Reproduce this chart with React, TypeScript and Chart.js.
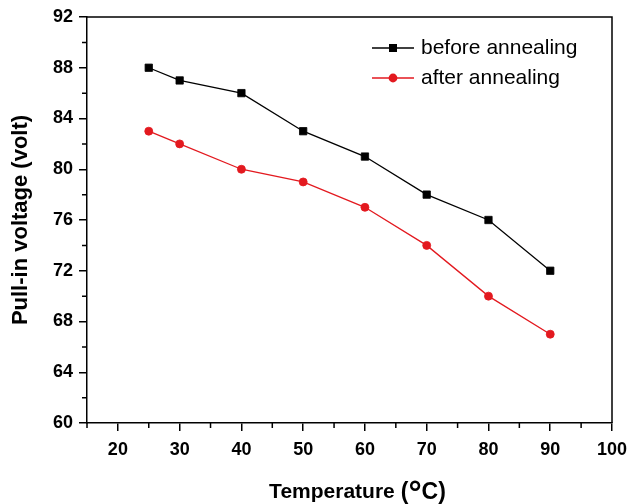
import React, { useEffect, useRef } from 'react';
import { Chart, registerables } from 'chart.js';

Chart.register(...registerables);

const temperatures = [25, 30, 40, 50, 60, 70, 80, 90];
const beforeAnnealing = [88, 87, 86, 83, 81, 78, 76, 72];
const afterAnnealing = [83, 82, 80, 79, 77, 74, 70, 67];
const seriesLabels = ['before annealing', 'after annealing'];
const seriesColors = ['#000000', '#e3191f'];
const xTickValues = [20, 30, 40, 50, 60, 70, 80, 90, 100];
const xMinorTickValues = [15, 25, 35, 45, 55, 65, 75, 85, 95];
const yTickValues = [60, 64, 68, 72, 76, 80, 84, 88, 92];
const yMinorTickValues = [62, 66, 70, 74, 78, 82, 86, 90];
const xTitleParts = ['Temperature', '(', '°', 'C)'];
const yTitle = 'Pull-in voltage (volt)';

const FONT = '"Liberation Sans", Arial, Helvetica, sans-serif';

const framePlugin = {
  id: 'frameAndLegend',
  afterDraw(chart: any) {
    const { ctx, chartArea, scales } = chart;
    const { left, right, top, bottom } = chartArea;
    const x = scales.x;
    const y = scales.y;
    ctx.save();
    ctx.strokeStyle = '#000';
    ctx.lineWidth = 1.5;
    ctx.beginPath();
    ctx.moveTo(left, top);
    ctx.lineTo(right, top);
    ctx.lineTo(right, bottom);
    ctx.stroke();

    // minor ticks
    ctx.beginPath();
    xMinorTickValues.forEach((v) => {
      const px = x.getPixelForValue(v);
      ctx.moveTo(px, bottom);
      ctx.lineTo(px, bottom + 5);
    });
    yMinorTickValues.forEach((v) => {
      const py = y.getPixelForValue(v);
      ctx.moveTo(left, py);
      ctx.lineTo(left - 5, py);
    });
    ctx.stroke();

    // legend
    chart.data.datasets.forEach((ds: any, i: number) => {
      const ly = top + 31 + i * 30;
      const x0 = left + 285;
      const x1 = left + 327;
      const mx = left + 306;
      ctx.strokeStyle = ds.borderColor;
      ctx.lineWidth = 1.3;
      ctx.beginPath();
      ctx.moveTo(x0, ly);
      ctx.lineTo(x1, ly);
      ctx.stroke();
      ctx.fillStyle = ds.borderColor;
      ctx.beginPath();
      if (ds.pointStyle === 'rect') {
        ctx.rect(mx - 4, ly - 4, 8, 8);
      } else {
        ctx.arc(mx, ly, 4.4, 0, Math.PI * 2);
      }
      ctx.fill();
      ctx.fillStyle = '#000';
      ctx.font = `21px ${FONT}`;
      ctx.textBaseline = 'middle';
      ctx.textAlign = 'left';
      ctx.fillText(ds.label, left + 334, ly);
    });

    // x axis title with enlarged (°C)
    const fonts = [
      `bold 21px ${FONT}`,
      `bold 23px ${FONT}`,
      `bold 33px ${FONT}`,
      `bold 23px ${FONT}`,
    ];
    const gaps = [6, 0, 0, 0];
    const baselines = [498, 499, 504, 498.5];
    let total = 0;
    const widths = xTitleParts.map((p, i) => {
      ctx.font = fonts[i];
      const w = ctx.measureText(p).width;
      total += w + gaps[i];
      return w;
    });
    total -= gaps[gaps.length - 1];
    let cx = (left + right) / 2 + 8 - total / 2;
    ctx.fillStyle = '#000';
    ctx.textAlign = 'left';
    ctx.textBaseline = 'alphabetic';
    xTitleParts.forEach((p, i) => {
      ctx.font = fonts[i];
      ctx.fillText(p, cx, baselines[i]);
      cx += widths[i] + gaps[i];
    });
    ctx.restore();
  },
};

export default function App() {
  const canvasRef = useRef<HTMLCanvasElement | null>(null);

  useEffect(() => {
    const canvas = canvasRef.current;
    if (!canvas) return;
    const chart = new Chart(canvas, {
      type: 'line',
      data: {
        datasets: [
          {
            label: seriesLabels[0],
            data: temperatures.map((t, i) => ({ x: t, y: beforeAnnealing[i] })),
            borderColor: seriesColors[0],
            backgroundColor: seriesColors[0],
            borderWidth: 1.3,
            pointStyle: 'rect',
            pointRadius: 5.2,
            pointBorderWidth: 0.8,
            tension: 0,
          },
          {
            label: seriesLabels[1],
            data: temperatures.map((t, i) => ({ x: t, y: afterAnnealing[i] })),
            borderColor: seriesColors[1],
            backgroundColor: seriesColors[1],
            borderWidth: 1.3,
            pointStyle: 'circle',
            pointRadius: 4,
            pointBorderWidth: 0.8,
            tension: 0,
          },
        ],
      },
      options: {
        animation: false,
        responsive: true,
        maintainAspectRatio: false,
        layout: { padding: { top: 17, right: 15, left: 0, bottom: 0 } },
        plugins: {
          legend: { display: false },
          tooltip: { enabled: false },
        },
        scales: {
          x: {
            type: 'linear',
            min: 15,
            max: 100,
            afterBuildTicks: (scale: any) => {
              scale.ticks = xTickValues.map((v) => ({ value: v }));
            },
            afterFit: (scale: any) => {
              scale.height = 81;
              scale.paddingLeft = 0;
              scale.paddingRight = 0;
            },
            ticks: {
              color: '#000',
              font: { family: FONT, size: 18, weight: 'bold' },
              padding: 8,
              maxRotation: 0,
              autoSkip: false,
            },
            grid: {
              drawOnChartArea: false,
              drawTicks: true,
              tickLength: 8,
              color: '#000',
              lineWidth: 1.5,
            },
            border: { display: true, color: '#000', width: 1.5 },
            title: { display: false },
          },
          y: {
            type: 'linear',
            min: 60,
            max: 92,
            afterBuildTicks: (scale: any) => {
              scale.ticks = yTickValues.map((v) => ({ value: v }));
            },
            afterFit: (scale: any) => {
              scale.width = 87;
              scale.paddingTop = 0;
              scale.paddingBottom = 0;
            },
            ticks: {
              color: '#000',
              font: { family: FONT, size: 18, weight: 'bold' },
              padding: 6,
              autoSkip: false,
            },
            grid: {
              drawOnChartArea: false,
              drawTicks: true,
              tickLength: 8,
              color: '#000',
              lineWidth: 1.5,
            },
            border: { display: true, color: '#000', width: 1.5 },
            title: {
              display: true,
              text: yTitle,
              color: '#000',
              font: { family: FONT, size: 22, weight: 'bold' },
              padding: { top: 8, bottom: 0 },
            },
          },
        },
      },
      plugins: [framePlugin],
    });
    return () => chart.destroy();
  }, []);

  return (
    <div style={{ position: 'fixed', left: 0, top: 0, width: 627, height: 504, background: '#fff' }}>
      <canvas ref={canvasRef} />
    </div>
  );
}
